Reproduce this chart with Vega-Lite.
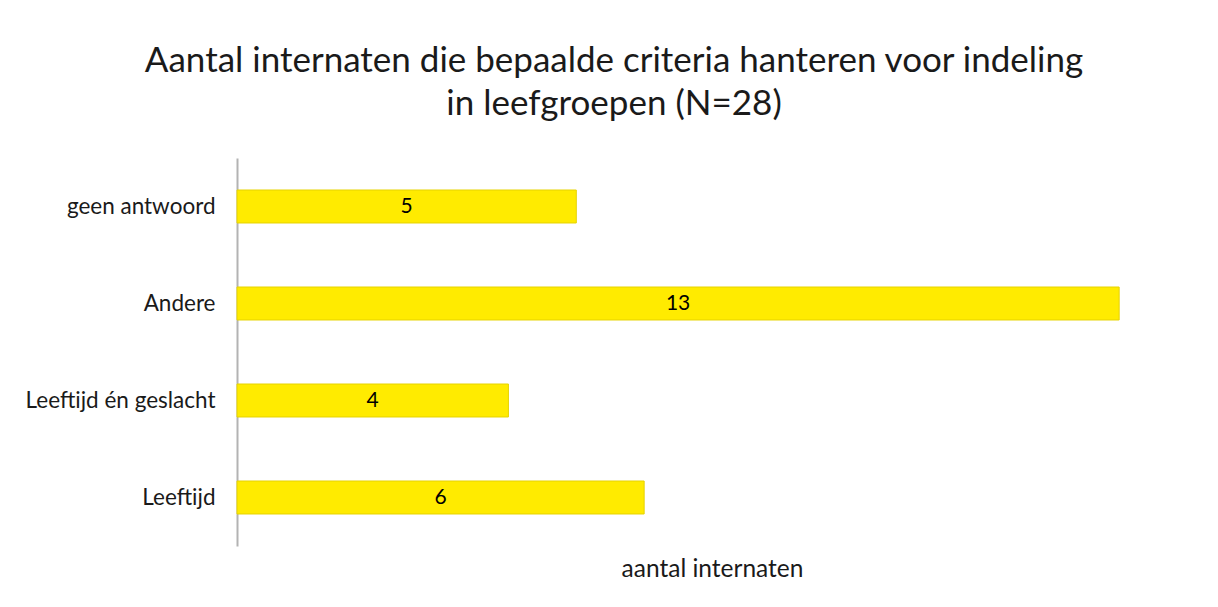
{
  "$schema": "https://vega.github.io/schema/vega-lite/v6.json",
  "autosize": {"type": "none"},
  "width": 950,
  "height": 388,
  "padding": {"left": 237, "top": 158, "right": 31, "bottom": 61},
  "background": "white",
  "title": {
    "text": ["Aantal internaten die bepaalde criteria hanteren voor indeling", "in leefgroepen (N=28)"],
    "font": "Lato",
    "fontSize": 35,
    "fontWeight": "normal",
    "color": "#1a1a1a",
    "lineHeight": 43,
    "anchor": "middle",
    "frame": "group",
    "dx": -98,
    "offset": 36
  },
  "data": {
    "values": [
      {"criterium": "geen antwoord", "aantal": 5},
      {"criterium": "Andere", "aantal": 13},
      {"criterium": "Leeftijd én geslacht", "aantal": 4},
      {"criterium": "Leeftijd", "aantal": 6}
    ]
  },
  "config": {"view": {"stroke": null}},
  "encoding": {
    "y": {
      "field": "criterium",
      "type": "nominal",
      "sort": null,
      "scale": {"paddingInner": 0.66, "paddingOuter": 0.33},
      "axis": {
        "title": null,
        "ticks": false,
        "domain": true,
        "domainColor": "#b3b3b3",
        "domainWidth": 2,
        "labelFont": "Lato",
        "labelFontSize": 22.5,
        "labelColor": "#1a1a1a",
        "labelPadding": 22,
        "labelLimit": 400,
        "grid": false
      }
    }
  },
  "layer": [
    {
      "mark": {"type": "bar", "color": "#ffeb00", "stroke": "#e6d300", "strokeWidth": 1},
      "encoding": {
        "x": {
          "field": "aantal",
          "type": "quantitative",
          "scale": {"domain": [0, 14], "nice": false},
          "axis": {
            "title": "aantal internaten",
            "titleFont": "Lato",
            "titleFontSize": 24.5,
            "titleFontWeight": "normal",
            "titleColor": "#1a1a1a",
            "titlePadding": 11,
            "labels": false,
            "ticks": false,
            "domain": false,
            "grid": false
          }
        }
      }
    },
    {
      "mark": {"type": "text", "font": "Lato", "fontSize": 21, "color": "#000000", "baseline": "middle", "align": "center"},
      "encoding": {
        "x": {
          "field": "aantal",
          "type": "quantitative",
          "scale": {"domain": [0, 28], "nice": false},
          "axis": null
        },
        "text": {"field": "aantal", "type": "quantitative"}
      }
    }
  ],
  "resolve": {"scale": {"x": "independent"}, "axis": {"x": "independent"}}
}
